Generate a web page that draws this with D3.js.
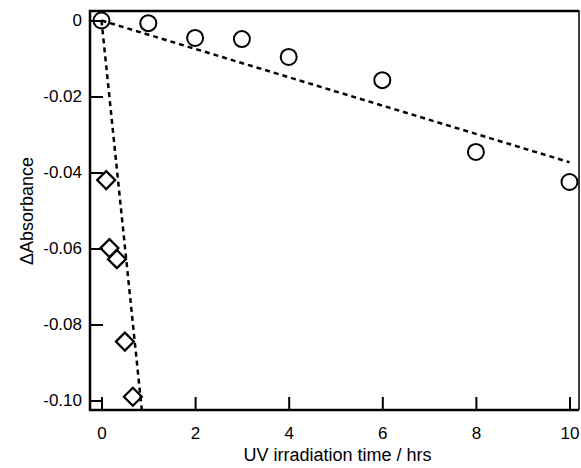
<!DOCTYPE html>
<html>
<head>
<meta charset="utf-8">
<script src="https://cdn.jsdelivr.net/npm/d3@7"></script>
<style>
	html, body { margin: 0; padding: 0; background: #fff; }
	svg { display: block; font-family: 'Liberation Sans', Arial, sans-serif; }
</style>
</head>
<body>
<svg width="581" height="468"></svg>
<script>
// circles: long irradiation series
const hrsA = [0, 1, 2, 3, 4, 6, 8, 10]
const absA = [0, -0.0007, -0.0046, -0.0049, -0.0096, -0.0157, -0.0346, -0.0425]

// diamonds: short irradiation series
const hrsB = [0, 0.1, 0.17, 0.33, 0.5, 0.67]
const absB = [0, -0.042, -0.0599, -0.0628, -0.0845, -0.099]

// linear fits through origin (slope per hr) and x range
const fitSlope = [-0.00373, -0.119]
const fitEnd = [10, 1]

const xTicks = [0, 2, 4, 6, 8, 10]
const yTicks = [0, -0.02, -0.04, -0.06, -0.08, -0.10]

const svg = d3.select('svg')

const mLeft = 90, mRight = 579, mTop = 11, mBottom = 410

let scX = d3.scaleLinear()
	.domain([-0.2457, 10.203])
	.range([mLeft, mRight])

let scY = d3.scaleLinear()
	.domain([0.0025, -0.1025])
	.range([mTop, mBottom])

svg.append('clipPath').attr('id', 'plot')
	.append('rect')
	.attr('x', mLeft).attr('y', mTop)
	.attr('width', mRight - mLeft).attr('height', mBottom - mTop)

// axes with inward ticks
let gy = svg.append('g')
	.attr('transform', `translate(${mLeft},0)`)
	.call(d3.axisLeft(scY)
		.tickValues(yTicks)
		.tickSizeInner(-13).tickSizeOuter(0)
		.tickPadding(8)
		.tickFormat(d => d === 0 ? '0' : d.toFixed(2)))

let gx = svg.append('g')
	.attr('transform', `translate(0,${mBottom})`)
	.call(d3.axisBottom(scX)
		.tickValues(xTicks)
		.tickSizeInner(-13).tickSizeOuter(0)
		.tickPadding(17)
		.tickFormat(d => String(d)))

svg.selectAll('.domain').remove()
svg.selectAll('.tick line').attr('stroke', '#000').attr('stroke-width', 2)
svg.selectAll('.tick text')
	.attr('fill', '#000')
	.style('font-size', '17px')
	.style('font-family', "'Liberation Sans', Arial, sans-serif")

// frame
svg.append('path')
	.attr('fill', 'none')
	.attr('stroke', '#000')
	.attr('stroke-width', 1.5)
	.attr('d', `M${mLeft},${mTop} H${mRight} V${mBottom}`)
svg.append('path')
	.attr('fill', 'none')
	.attr('stroke', '#000')
	.attr('stroke-width', 2.5)
	.attr('d', `M${mRight},${mBottom} H${mLeft} V${mTop} H${mRight}`)

// fit lines
let fits = svg.append('g').attr('clip-path', 'url(#plot)')
fitSlope.forEach((s, i) => {
	fits.append('line')
	.attr('x1', scX(0)).attr('y1', scY(0))
	.attr('x2', scX(fitEnd[i])).attr('y2', scY(s * fitEnd[i]))
	.attr('stroke', '#000')
	.attr('stroke-width', 2.5)
	.attr('stroke-dasharray', '5,4')
})

// circles
svg.append('g')
	.selectAll('circle')
	.data(hrsA.map((h, i) => ({x: h, y: absA[i]}))).enter()
	.append('circle')
	.attr('cx', d => scX(d.x))
	.attr('cy', d => scY(d.y))
	.attr('r', 8)
	.attr('fill', 'none')
	.attr('stroke', '#000')
	.attr('stroke-width', 2)

// diamonds
svg.append('g')
	.selectAll('path')
	.data(hrsB.map((h, i) => ({x: h, y: absB[i]})).slice(1)).enter()
	.append('path')
	.attr('transform', d => `translate(${scX(d.x)},${scY(d.y)})`)
	.attr('d', 'M0,-9 L9,0 L0,9 L-9,0 Z')
	.attr('fill', 'none')
	.attr('stroke', '#000')
	.attr('stroke-width', 2.2)

// axis titles
svg.append('text')
	.attr('x', (mLeft + mRight) / 2 + 3)
	.attr('y', 461)
	.attr('text-anchor', 'middle')
	.style('font-size', '18px')
	.text('UV irradiation time / hrs')

svg.append('text')
	.attr('transform', 'translate(33,211) rotate(-90)')
	.attr('text-anchor', 'middle')
	.style('font-size', '18px')
	.text('ΔAbsorbance')
</script>
</body>
</html>
